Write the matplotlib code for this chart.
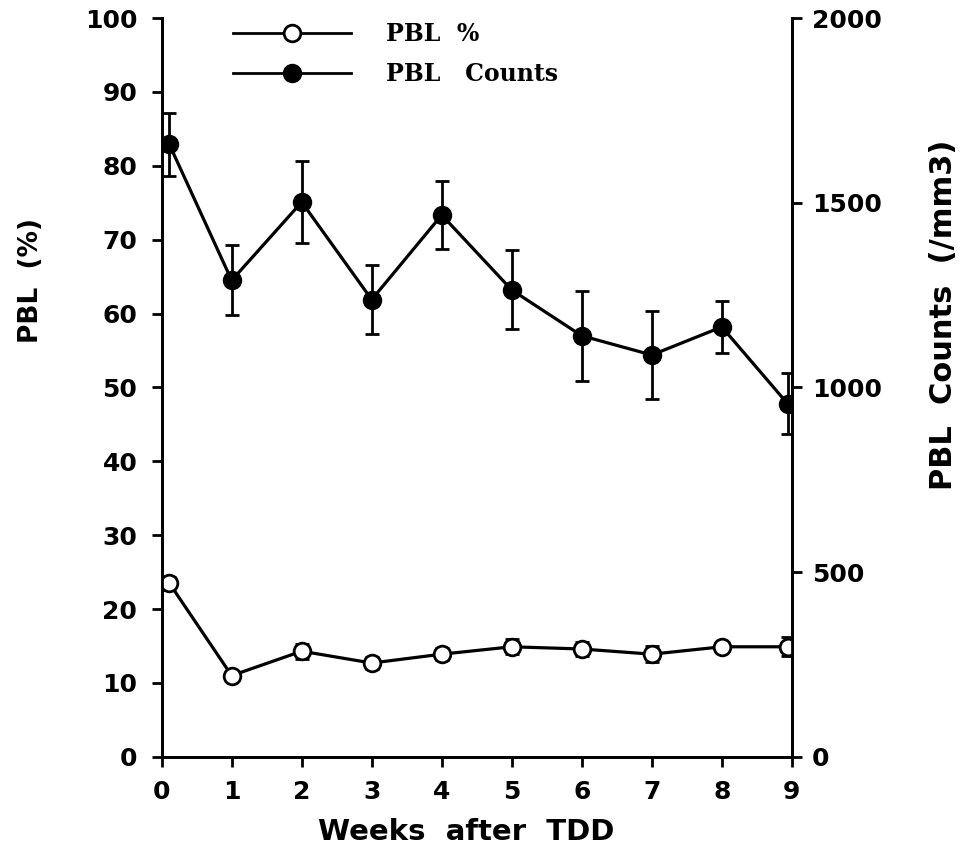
import matplotlib
matplotlib.use("Agg")
import matplotlib.pyplot as plt
from matplotlib.lines import Line2D

# values
weeks = [0.11, 1, 2, 3, 4, 5, 6, 7, 8, 8.94]
pbl_pct = [23.5, 11.0, 14.3, 12.7, 13.9, 14.9, 14.6, 13.9, 14.9, 14.9]
pbl_pct_err = [0.9, 0.6, 1.0, 0.8, 0.8, 1.0, 1.0, 1.1, 0.6, 1.3]
pbl_counts = [1658, 1290, 1502, 1238, 1467, 1264, 1140, 1088, 1164, 956]
pbl_counts_err = [86, 95, 111, 93, 92, 107, 122, 118, 70, 83]

week_ticks = list(range(10))
pct_ticks = list(range(0, 101, 10))
count_ticks = [0, 500, 1000, 1500, 2000]

tick_font = {"family": "DejaVu Sans", "weight": "bold", "size": 18}
label_font = {"family": "DejaVu Sans", "weight": "bold", "size": 21}

fig = plt.figure(figsize=(9.68, 8.63), dpi=100)
ax = fig.add_axes([0.167, 0.123, 0.651, 0.856])
ax2 = ax.twinx()

ax.errorbar(weeks, pbl_pct, yerr=pbl_pct_err, color="black", lw=2.3,
            marker="o", ms=12, mfc="white", mec="black", mew=2,
            ecolor="black", elinewidth=2, capsize=5, capthick=2.5, zorder=3)
ax2.errorbar(weeks, pbl_counts, yerr=pbl_counts_err, color="black", lw=2.3,
             marker="o", ms=13, mfc="black", mec="black",
             ecolor="black", elinewidth=2, capsize=5, capthick=2, zorder=3)

ax.set_xlim(0, 9)
ax.set_ylim(0, 100)
ax2.set_ylim(0, 2000)

ax.set_xticks(week_ticks)
ax.set_xticklabels([str(w) for w in week_ticks], fontdict=tick_font)
ax.set_yticks(pct_ticks)
ax.set_yticklabels([str(p) for p in pct_ticks], fontdict=tick_font)
ax2.set_yticks(count_ticks)
ax2.set_yticklabels([str(c) for c in count_ticks], fontdict=tick_font)

for a in (ax, ax2):
    a.spines["top"].set_visible(False)
    for s in ("left", "right", "bottom"):
        a.spines[s].set_linewidth(2)
    a.tick_params(direction="out", length=7.5, width=2)
ax.tick_params(axis="y", pad=10)
ax.tick_params(axis="x", pad=9)
ax2.tick_params(axis="y", pad=7)

ax.set_xlabel("Weeks  after  TDD", fontdict=label_font)
ax.xaxis.set_label_coords(0.483, -0.083)
ax.set_ylabel("PBL  (%)", fontdict={**label_font, "size": 19})
ax.yaxis.set_label_coords(-0.186, 0.645)
ax2.set_ylabel("PBL  Counts  (/mm3)", fontdict={**label_font, "size": 22})
ax2.yaxis.set_label_coords(1.217, 0.598)

handles = [
    Line2D([], [], color="black", lw=2, marker="o", ms=12, mfc="white", mec="black", mew=2),
    Line2D([], [], color="black", lw=2, marker="o", ms=13, mfc="black"),
]
ax.legend(handles, ["PBL  %", "PBL   Counts"], loc="upper left",
          bbox_to_anchor=(0.113, 0.995), borderaxespad=0, borderpad=0,
          frameon=False, handlelength=5.0, handletextpad=1.5, labelspacing=0.7,
          prop={"family": "DejaVu Serif", "weight": "bold", "size": 17})

fig.savefig("out.png", dpi=100)
